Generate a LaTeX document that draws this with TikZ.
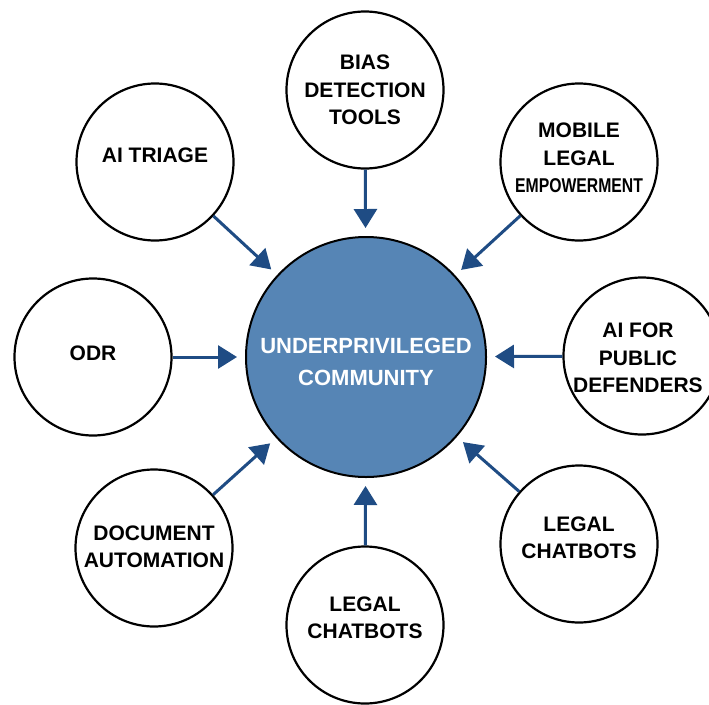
\documentclass[tikz,border=0pt]{standalone}
\usepackage{fontspec}
\setmainfont{Liberation Sans}
\usepackage{tikz}
\usetikzlibrary{arrows.meta}
\definecolor{hubblue}{RGB}{86,133,181}
\definecolor{feedblue}{RGB}{31,76,132}

\begin{document}
\begin{tikzpicture}[x=1pt,y=-1pt,
  hub/.style={circle,draw=black,line width=2pt,fill=hubblue,minimum size=240pt,inner sep=0pt},
  hubtext/.style={text=white,align=center,font=\bfseries\fontsize{22}{32}\selectfont},
  spoke/.style={circle,draw=black,line width=2.2pt,fill=white,minimum size=157pt,inner sep=0pt},
  tag/.style={align=center,inner sep=0pt,font=\bfseries\fontsize{21}{27.5}\selectfont},
  feed/.style={draw=feedblue,line width=3pt,-{Triangle[length=19pt,width=23pt]},shorten >=8pt}]
\useasboundingbox (0,0) rectangle (709,704);
\fill[white] (0,0) rectangle (709,704);
% centre
\node[hub,label={[hubtext,yshift=-5pt]center:UNDERPRIVILEGED\\COMMUNITY}] (comm) at (366,357) {};
% ring of tools
\node[spoke,label={[tag,yshift=7pt]center:AI TRIAGE}] (triage) at (155,162) {};
\node[spoke,label={[tag]center:BIAS\\DETECTION\\TOOLS}] (bias) at (365,90) {};
\node[spoke,label={[tag,yshift=4pt]center:MOBILE\\LEGAL\\\scalebox{0.75}[0.95]{EMPOWERMENT}}] (mobile) at (579,162) {};
\node[spoke,label={[tag,yshift=4pt]center:ODR}] (odr) at (93,357) {};
\node[spoke,label={[tag,xshift=-4pt,yshift=-2pt]center:AI FOR\\PUBLIC\\DEFENDERS}] (defend) at (642,356) {};
\node[spoke,label={[tag,yshift=1pt]center:DOCUMENT\\AUTOMATION}] (docs) at (154,548) {};
\node[spoke,label={[tag,yshift=7pt]center:LEGAL\\CHATBOTS}] (chatS) at (365,625) {};
\node[spoke,label={[tag,yshift=6pt]center:LEGAL\\CHATBOTS}] (chatE) at (579,544) {};
% arrows into the centre
\foreach \n in {triage,bias,mobile,odr,defend,docs,chatS,chatE}
  \draw[feed] (\n) -- (comm);
\end{tikzpicture}
\end{document}
